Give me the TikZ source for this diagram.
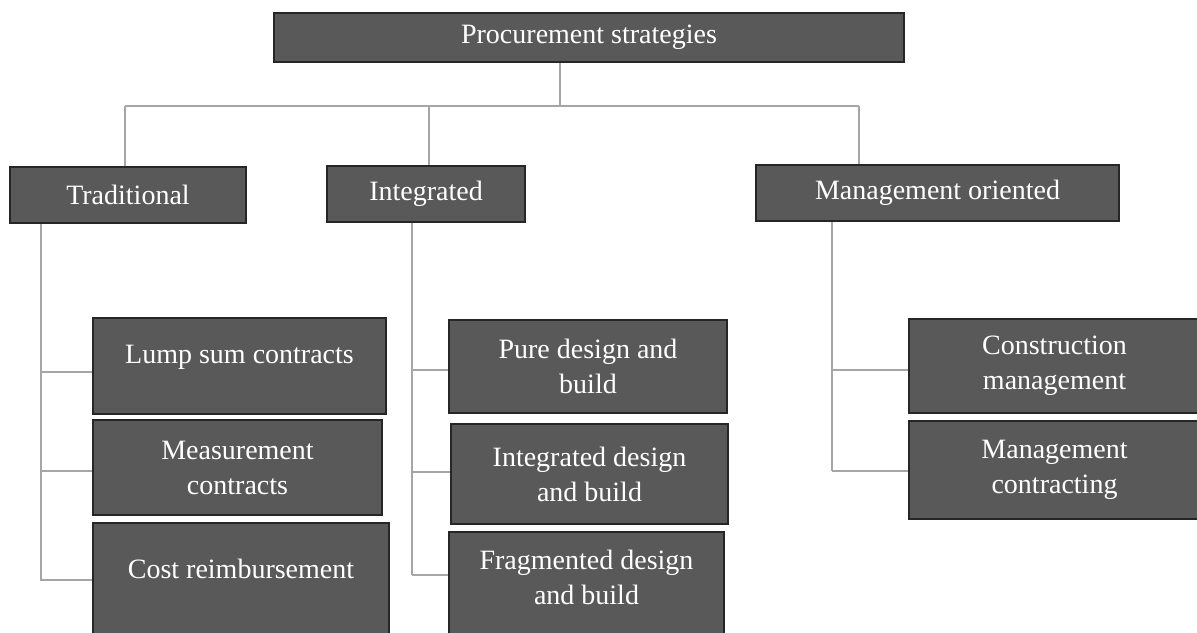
\documentclass[tikz,border=0pt]{standalone}
\usepackage{fontspec}
\setmainfont{Liberation Serif}
\usetikzlibrary{calc}
\definecolor{boxfill}{HTML}{595959}
\definecolor{boxline}{HTML}{262626}
\definecolor{connline}{HTML}{A6A6A6}
\begin{document}
\begin{tikzpicture}[x=1pt,y=-1pt,
  box/.style={draw=boxline, fill=boxfill, line width=1.5pt, text=white,
    font=\fontsize{28}{35}\selectfont, align=center, inner sep=0pt},
  txt/.style={text=white, font=\fontsize{28}{35}\selectfont, align=center, inner sep=0pt},
  conn/.style={draw=connline, line width=1.4pt}]
\useasboundingbox (0,0) rectangle (1197,632);
\clip (0,0) rectangle (1197,632);
\fill[white] (0,0) rectangle (1197,632);

% level 0
\node[box, minimum width=630pt, minimum height=49pt] (top) at (589,37.5) {Procurement strategies};
% level 1
\node[box, minimum width=236pt, minimum height=56pt] (trad) at (128,195) {Traditional};
\node[box, minimum width=198pt, minimum height=56pt] (integ) at (426,194) {Integrated};
\node[box, minimum width=363pt, minimum height=56pt] (mgmt) at (937.5,193) {Management oriented};
% level 2 - traditional
\node[box, minimum width=293pt, minimum height=96pt,
  label={[txt,yshift=9pt]center:Lump sum contracts}] (lump) at (239.5,366) {};
\node[box, minimum width=289pt, minimum height=95pt] (meas) at (237.5,467.5) {Measurement\\contracts};
\node[box, minimum width=296pt, minimum height=117pt,
  label={[txt,yshift=12.5pt]center:Cost reimbursement}] (cost) at (241,581.5) {};
% level 2 - integrated
\node[box, minimum width=278pt, minimum height=93pt] (pure) at (588,366.5) {Pure design and\\build};
\node[box, minimum width=277pt, minimum height=100pt] (intd) at (589.5,474) {Integrated design\\and build};
\node[box, minimum width=275pt, minimum height=113pt,
  label={[txt,yshift=11.5pt]center:Fragmented design\\and build}] (frag) at (586.5,588.5) {};
% level 2 - management (boxes run past the right edge)
\node[box, minimum width=300pt, minimum height=94pt,
  label={[txt,xshift=-4.5pt]center:Construction\\management}] (cmg) at (1059,366) {};
\node[box, minimum width=300pt, minimum height=98pt,
  label={[txt,xshift=-4.5pt]center:Management\\contracting}] (mct) at (1059,470) {};

% connectors level 0 -> 1
\coordinate (cJ) at (560,106);
\coordinate (cT) at (125,106);
\coordinate (cI) at (429,106);
\coordinate (cM) at (859,106);
\draw[conn] (top.south -| cJ) -- (cJ);
\draw[conn] (cT) -- (cM);
\draw[conn] (cT) -- (trad.north -| cT);
\draw[conn] (cI) -- (integ.north -| cI);
\draw[conn] (cM) -- (mgmt.north -| cM);

% traditional branch
\coordinate (tL) at (41,581);
\coordinate (tL1) at (41,372);
\coordinate (tL2) at (41,471);
\coordinate (tL3) at (41,580);
\draw[conn] (trad.south -| tL) -- (tL);
\draw[conn] (tL1) -- (lump.west |- tL1);
\draw[conn] (tL2) -- (meas.west |- tL2);
\draw[conn] (tL3) -- (cost.west |- tL3);

% integrated branch
\coordinate (iL1) at (412,370);
\coordinate (iL2) at (412,472);
\coordinate (iL3) at (412,575);
\draw[conn] (integ.south -| iL3) -- (iL3);
\draw[conn] (iL1) -- (pure.west |- iL1);
\draw[conn] (iL2) -- (intd.west |- iL2);
\draw[conn] (iL3) -- (frag.west |- iL3);

% management branch
\coordinate (mL1) at (832,370);
\coordinate (mL2) at (832,471);
\draw[conn] (mgmt.south -| mL2) -- (mL2);
\draw[conn] (mL1) -- (cmg.west |- mL1);
\draw[conn] (mL2) -- (mct.west |- mL2);
\end{tikzpicture}
\end{document}
